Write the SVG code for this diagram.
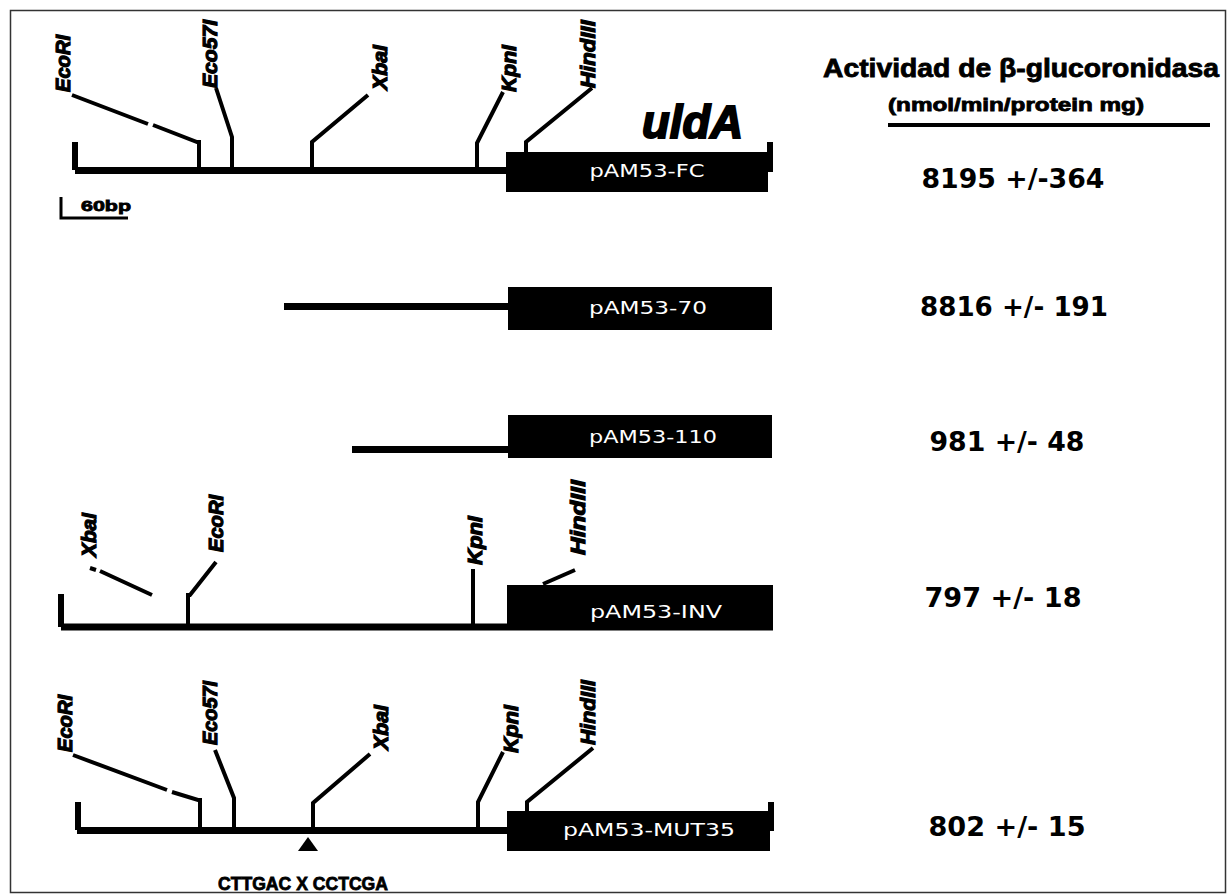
<svg xmlns="http://www.w3.org/2000/svg" width="1228" height="896" viewBox="0 0 1228 896">
<style>
.base{stroke:#000;stroke-width:7;fill:none}
.site{stroke:#000;stroke-width:4;fill:none;stroke-linejoin:miter}
.tick{stroke:#000;stroke-width:6;fill:none}
.lab{font-family:"Liberation Sans",Arial,sans-serif;font-weight:bold;font-style:italic;font-size:21px;fill:#000;stroke:#000;stroke-width:1.2}
.box{fill:#000}
.bt{font-family:"DejaVu Sans",sans-serif;font-size:17px;fill:#fff;text-anchor:middle}
.num{font-family:"DejaVu Sans",Verdana,sans-serif;font-weight:bold;font-size:27px;fill:#000;text-anchor:middle}
.hd{font-family:"Liberation Sans",Arial,sans-serif;font-weight:bold;fill:#000;stroke:#000;stroke-width:0.8}
</style>
<rect x="10.5" y="10.5" width="1215" height="882" fill="#fff" stroke="#333" stroke-width="1.5"/>

<g id="connectors">
<!-- row 1 -->
<path class="base" d="M75,170.5 H506"/>
<path class="tick" d="M75,142 V170"/>
<path class="tick" d="M770,142 V172"/>
<path class="site" d="M72,95 L148,124 M153,125 L197,142 L199,142 V168"/>
<path class="site" d="M216,88 L232,137 V168"/>
<path class="site" d="M368,95 L312,142 V168"/>
<path class="site" d="M503,92 L477,143 V168"/>
<path class="site" d="M592,88 L526,142 V153"/>
<!-- row 2 -->
<path class="base" d="M284,306.5 H508"/>
<!-- row 3 -->
<path class="base" d="M352,449.5 H508"/>
<!-- row 4 -->
<path class="base" d="M61,627 H773"/>
<path class="tick" d="M61,594 V627"/>
<path class="site" d="M90,568 L96,570 M100,571 L152,595"/>
<path class="site" d="M216,562 L190,595 L188,595 V625"/>
<path class="site" d="M473,569 V625"/>
<path class="site" d="M543,584 L575,570"/>
<!-- row 5 -->
<path class="base" d="M77,830.5 H507"/>
<path class="tick" d="M78,802 V830"/>
<path class="tick" d="M771,802 V831"/>
<path class="site" d="M73,755 L167,790 M172,792 L198,800 L200,800 V828"/>
<path class="site" d="M215,750 L234,798 V828"/>
<path class="site" d="M370,754 L313,803 V828"/>
<path class="site" d="M503,752 L478,802 V828"/>
<path class="site" d="M593,748 L527,802 V812"/>
<path d="M308,837 L318,851 L298,851 Z" fill="#000"/>
</g>

<g id="fc">
<rect class="box" x="506" y="152" width="262" height="40"/>
<text class="bt" x="647" y="177" textLength="115" lengthAdjust="spacingAndGlyphs">pAM53-FC</text>
</g>
<g id="r70">
<rect class="box" x="508" y="287" width="264" height="43"/>
<text class="bt" x="648" y="314" textLength="118" lengthAdjust="spacingAndGlyphs">pAM53-70</text>
</g>
<g id="r110">
<rect class="box" x="508" y="415" width="264" height="43"/>
<text class="bt" x="653" y="443" textLength="128" lengthAdjust="spacingAndGlyphs">pAM53-110</text>
</g>
<g id="inv">
<rect class="box" x="507" y="585" width="266" height="43"/>
<text class="bt" x="656" y="618" textLength="132" lengthAdjust="spacingAndGlyphs">pAM53-INV</text>
</g>
<g id="mut35">
<rect class="box" x="507" y="811" width="263" height="40"/>
<text class="bt" x="649" y="836" textLength="172" lengthAdjust="spacingAndGlyphs">pAM53-MUT35</text>
</g>

<g id="sites">
<text class="lab" transform="translate(70,92) rotate(-90)" textLength="57" lengthAdjust="spacingAndGlyphs">EcoRI</text>
<text class="lab" transform="translate(217,88) rotate(-90)" textLength="68" lengthAdjust="spacingAndGlyphs">Eco57I</text>
<text class="lab" transform="translate(387,90) rotate(-90)" textLength="45" lengthAdjust="spacingAndGlyphs">XbaI</text>
<text class="lab" transform="translate(516,92) rotate(-90)" textLength="47" lengthAdjust="spacingAndGlyphs">KpnI</text>
<text class="lab" transform="translate(595,88) rotate(-90)" textLength="68" lengthAdjust="spacingAndGlyphs">HindIII</text>

<text class="lab" transform="translate(96,557) rotate(-90)" textLength="44" lengthAdjust="spacingAndGlyphs">XbaI</text>
<text class="lab" transform="translate(223,552) rotate(-90)" textLength="57" lengthAdjust="spacingAndGlyphs">EcoRI</text>
<text class="lab" transform="translate(482,565) rotate(-90)" textLength="49" lengthAdjust="spacingAndGlyphs">KpnI</text>
<text class="lab" transform="translate(585,555) rotate(-90)" textLength="75" lengthAdjust="spacingAndGlyphs">HindIII</text>

<text class="lab" transform="translate(72,752) rotate(-90)" textLength="57" lengthAdjust="spacingAndGlyphs">EcoRI</text>
<text class="lab" transform="translate(217,745) rotate(-90)" textLength="64" lengthAdjust="spacingAndGlyphs">Eco57I</text>
<text class="lab" transform="translate(388,750) rotate(-90)" textLength="45" lengthAdjust="spacingAndGlyphs">XbaI</text>
<text class="lab" transform="translate(518,753) rotate(-90)" textLength="48" lengthAdjust="spacingAndGlyphs">KpnI</text>
<text class="lab" transform="translate(595,745) rotate(-90)" textLength="65" lengthAdjust="spacingAndGlyphs">HindIII</text>
</g>

<g id="gene">
<text x="642" y="138" font-family="Liberation Sans,Arial,sans-serif" font-weight="bold" font-style="italic" font-size="46" stroke="#000" stroke-width="2" textLength="101" lengthAdjust="spacingAndGlyphs">uldA</text>
</g>

<g id="scale">
<path d="M61,197 V218 H128" stroke="#000" stroke-width="3" fill="none"/>
<text x="81" y="211" font-family="Liberation Sans,Arial,sans-serif" font-weight="bold" font-size="15" stroke="#000" stroke-width="0.8" textLength="50" lengthAdjust="spacingAndGlyphs">60bp</text>
</g>

<g id="header">
<text class="hd" x="823" y="77" font-size="25" textLength="396" lengthAdjust="spacingAndGlyphs">Actividad de β-glucoronidasa</text>
<text class="hd" x="888" y="111" font-size="18" textLength="256" lengthAdjust="spacingAndGlyphs">(nmol/min/protein mg)</text>
<path d="M888,125 H1210" stroke="#000" stroke-width="4"/>
</g>

<g id="values">
<text class="num" x="1013" y="188" textLength="183" lengthAdjust="spacingAndGlyphs">8195 +/-364</text>
<text class="num" x="1014" y="316" textLength="188" lengthAdjust="spacingAndGlyphs">8816 +/- 191</text>
<text class="num" x="1007" y="451" textLength="155" lengthAdjust="spacingAndGlyphs">981 +/- 48</text>
<text class="num" x="1003" y="607" textLength="157" lengthAdjust="spacingAndGlyphs">797 +/- 18</text>
<text class="num" x="1007" y="836" textLength="157" lengthAdjust="spacingAndGlyphs">802 +/- 15</text>
</g>

<g id="mutation">
<text x="218" y="890" font-family="Liberation Sans,Arial,sans-serif" font-weight="bold" font-size="18" stroke="#000" stroke-width="0.8" textLength="170" lengthAdjust="spacingAndGlyphs">CTTGAC X CCTCGA</text>
</g>
</svg>
